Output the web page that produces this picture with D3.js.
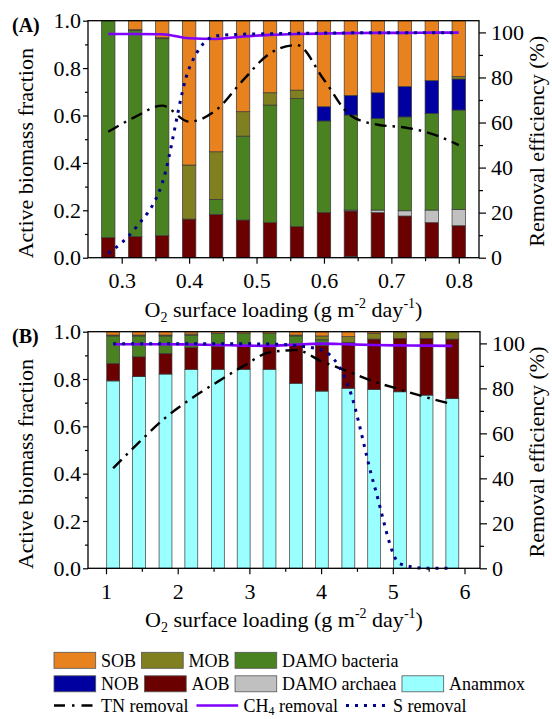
<!DOCTYPE html>
<html>
<head>
<meta charset="utf-8">
<script src="https://cdn.jsdelivr.net/npm/d3@7/dist/d3.min.js"></script>
<style>
body{margin:0;background:#fff;}
svg text{font-family:"Liberation Serif","Times New Roman",serif;fill:#000;}
</style>
</head>
<body>
<svg width="552" height="719"></svg>
<script>
//Community groups, stacked from the bottom of each bar
let groups = ["Anammox", "AOB", "DAMO archaea", "DAMO bacteria", "NOB", "MOB", "SOB"];
let groupColors = ["#99FFFF", "#6B0000", "#C0C0C0", "#4A8221", "#0000A0", "#808020", "#E8821E"];

//Panel A: O2 surface loading (g m-2 day-1)
let loadingA = [0.28, 0.32, 0.36, 0.40, 0.44, 0.48, 0.52, 0.56, 0.60, 0.64, 0.68, 0.72, 0.76, 0.80];
let anammoxA = [0, 0, 0, 0, 0, 0, 0, 0, 0, 0.005, 0, 0, 0, 0];
let aobA = [0.085, 0.089, 0.093, 0.163, 0.183, 0.159, 0.148, 0.131, 0.191, 0.192, 0.190, 0.176, 0.148, 0.135];
let archaeaA = [0, 0, 0, 0, 0, 0, 0, 0, 0, 0.004, 0.011, 0.022, 0.053, 0.069];
let damoBacA = [0.915, 0.870, 0.831, 0, 0.063, 0.354, 0.496, 0.541, 0.386, 0.401, 0.387, 0.396, 0.408, 0.419];
let nobA = [0, 0, 0, 0, 0, 0, 0, 0, 0.060, 0.083, 0.108, 0.128, 0.138, 0.131];
let mobA = [0, 0.003, 0.004, 0.228, 0.201, 0.103, 0.052, 0.035, 0, 0, 0, 0, 0, 0.010];
let sobA = [0, 0.038, 0.072, 0.609, 0.553, 0.384, 0.304, 0.293, 0.363, 0.315, 0.304, 0.278, 0.253, 0.236];
//Removal efficiencies (%)
let tnA = [55.9, 62.5, 67.5, 60.4, 65.5, 78.8, 90.7, 94.4, 79, 63, 59, 57.8, 55, 50];
let ch4A = [99.3, 99.3, 99.2, 97.4, 97.1, 98.2, 98.9, 99.3, 99.5, 99.7, 99.8, 99.8, 99.9, 99.9];
let sA = [2, 13, 33, 84, 98.5, 99.2, 99.4, 99.6, 99.7, 99.8, 99.8, 99.9, 99.9, 99.9];

//Panel B
let loadingB = [1.10, 1.46, 1.83, 2.19, 2.56, 2.92, 3.28, 3.65, 4.01, 4.38, 4.74, 5.10, 5.47, 5.83];
let anammoxB = [0.792, 0.810, 0.821, 0.841, 0.841, 0.841, 0.841, 0.782, 0.749, 0.761, 0.756, 0.746, 0.732, 0.717];
let aobB = [0.074, 0.084, 0.087, 0.093, 0.096, 0.099, 0.099, 0.163, 0.192, 0.194, 0.213, 0.226, 0.240, 0.252];
let archaeaB = [0, 0, 0, 0, 0, 0, 0, 0, 0, 0, 0, 0, 0, 0];
let damoBacB = [0.116, 0.088, 0.074, 0.051, 0.056, 0.054, 0.054, 0.037, 0.025, 0, 0, 0, 0, 0];
let nobB = [0, 0, 0, 0, 0, 0, 0, 0, 0, 0, 0, 0, 0, 0];
let mobB = [0.004, 0.004, 0.004, 0.005, 0, 0, 0, 0.004, 0.016, 0.024, 0.024, 0.028, 0.028, 0.031];
let sobB = [0.014, 0.014, 0.014, 0.010, 0.007, 0.006, 0.006, 0.014, 0.018, 0.021, 0.007, 0, 0, 0];
let tnB = [44.5, 56, 67, 75.5, 83, 90, 96, 97, 92, 87.5, 83, 79.5, 76, 73];
let ch4B = [99.6, 99.6, 99.6, 99.5, 99.3, 99.0, 98.9, 99.5, 99.9, 99.6, 99.3, 99.1, 99.0, 98.9];
let sB = [99.8, 99.8, 99.8, 99.8, 99.8, 99.8, 99.7, 99, 97, 81, 37, 2, 0, 0];

//Tick labels
let fractionTicks = [0, 0.2, 0.4, 0.6, 0.8, 1.0];
let efficiencyTicks = [0, 20, 40, 60, 80, 100];
let loadingTicksA = [0.3, 0.4, 0.5, 0.6, 0.7, 0.8];
let loadingTicksB = [1, 2, 3, 4, 5, 6];

let svg = d3.select("svg");
let color = d3.scaleOrdinal(groups, groupColors);
let serif = '"Liberation Serif","Times New Roman",serif';

//Line styles for the three removal curves
let lineStyles = {
  TN: {stroke: "#000", width: 2.4, dash: "12,6,2.5,6"},
  CH4: {stroke: "#8000FF", width: 2.6, dash: null},
  S: {stroke: "#00008B", width: 3, dash: "3,6"}
};

//Mid points between major ticks
function minorTicks(ticks){
  let m = [];
  for(let i = 0; i < ticks.length - 1; i++) m.push((ticks[i] + ticks[i+1]) / 2);
  return m;
}

function styleAxis(ax){
  ax.select(".domain").remove();
  ax.selectAll("line").attr("stroke", "#000").attr("stroke-width", 1.2);
  ax.attr("font-family", serif).attr("font-size", 22);
  ax.selectAll("text").attr("fill", "#000");
}

function drawPanel(p){
  let g = svg.append("g").attr("transform", "translate(" + p.left + "," + p.top + ")");
  let x = d3.scaleLinear().domain(p.xDomain).range([0, p.width]);
  let y = d3.scaleLinear().domain([0, 1]).range([p.height, 0]);
  let y2 = d3.scaleLinear().domain([0, 105.2]).range([p.height, 0]);

  //Table for the stack layout
  let rows = p.xs.map(function(v, i){
    let r = {x: v};
    groups.forEach(function(k){ r[k] = p.bars[k][i]; });
    return r;
  });
  let series = d3.stack().keys(groups)(rows);
  let bw = (x(p.xs[1]) - x(p.xs[0])) * 0.5;

  g.selectAll(".layer")
    .data(series)
    .enter().append("g")
    .attr("class", "layer")
    .attr("fill", function(d){ return color(d.key); })
    .selectAll("rect")
    .data(function(d){ return d.filter(function(s){ return s[1] - s[0] > 0; }); })
    .enter().append("rect")
    .attr("x", function(d){ return x(d.data.x) - bw / 2; })
    .attr("width", bw)
    .attr("y", function(d){ return y(d[1]); })
    .attr("height", function(d){ return y(d[0]) - y(d[1]); })
    .attr("stroke", "#3a3a3a")
    .attr("stroke-width", 0.7);

  //Removal curves on the right axis
  let line = d3.line()
    .x(function(d, i){ return x(p.xs[i]); })
    .y(function(d){ return y2(d); })
    .curve(d3.curveMonotoneX);
  ["TN", "CH4", "S"].forEach(function(k){
    let st = lineStyles[k];
    g.append("path")
      .attr("d", line(p.lines[k]))
      .attr("fill", "none")
      .attr("stroke", st.stroke)
      .attr("stroke-width", st.width)
      .attr("stroke-dasharray", st.dash);
  });

  //Axes
  let ax = g.append("g").attr("transform", "translate(0," + p.height + ")")
    .call(d3.axisBottom(x).tickValues(p.xTicks).tickFormat(d3.format(p.xFormat)).tickSize(6).tickPadding(9));
  styleAxis(ax);
  styleAxis(g.append("g").attr("transform", "translate(0," + p.height + ")")
    .call(d3.axisBottom(x).tickValues(minorTicks(p.xTicks)).tickFormat("").tickSize(3.5)));

  styleAxis(g.append("g")
    .call(d3.axisLeft(y).tickValues(fractionTicks).tickFormat(d3.format(".1f")).tickSize(5).tickPadding(2)));
  styleAxis(g.append("g")
    .call(d3.axisLeft(y).tickValues(minorTicks(fractionTicks)).tickFormat("").tickSize(3)));

  styleAxis(g.append("g").attr("transform", "translate(" + p.width + ",0)")
    .call(d3.axisRight(y2).tickValues(efficiencyTicks).tickFormat(d3.format("d")).tickSize(7).tickPadding(5)));
  styleAxis(g.append("g").attr("transform", "translate(" + p.width + ",0)")
    .call(d3.axisRight(y2).tickValues(minorTicks(efficiencyTicks)).tickFormat("").tickSize(4)));

  //Frame
  g.append("rect")
    .attr("width", p.width).attr("height", p.height)
    .attr("fill", "none").attr("stroke", "#000").attr("stroke-width", 1.3);

  //Axis titles
  g.append("text")
    .attr("transform", "translate(" + (33 - p.left) + "," + (p.height / 2 + 14) + ") rotate(-90)")
    .attr("text-anchor", "middle").attr("font-size", 22)
    .text("Active biomass fraction");
  g.append("text")
    .attr("transform", "translate(" + (544 - p.left) + "," + (p.height / 2 + 2) + ") rotate(-90)")
    .attr("text-anchor", "middle").attr("font-size", 22)
    .text("Removal efficiency (%)");

  let xt = g.append("text")
    .attr("x", p.width / 2).attr("y", p.height + 59)
    .attr("text-anchor", "middle").attr("font-size", 22);
  xt.append("tspan").text("O");
  xt.append("tspan").attr("font-size", 14).attr("dy", 5).text("2");
  xt.append("tspan").attr("dy", -5).text(" surface loading (g m");
  xt.append("tspan").attr("font-size", 14).attr("dy", -9).text("-2");
  xt.append("tspan").attr("dy", 9).text(" day");
  xt.append("tspan").attr("font-size", 14).attr("dy", -9).text("-1");
  xt.append("tspan").attr("dy", 9).text(")");

  //Panel letter
  g.append("text")
    .attr("x", 12 - p.left).attr("y", p.labelY - p.top)
    .attr("font-size", 20).attr("font-weight", "bold")
    .text(p.label);
}

drawPanel({
  label: "(A)", labelY: 32,
  left: 88, top: 20.7, width: 391, height: 237,
  xDomain: [0.25, 0.83], xTicks: loadingTicksA, xFormat: ".1f",
  xs: loadingA,
  bars: {"Anammox": anammoxA, "AOB": aobA, "DAMO archaea": archaeaA, "DAMO bacteria": damoBacA,
         "NOB": nobA, "MOB": mobA, "SOB": sobA},
  lines: {TN: tnA, CH4: ch4A, S: sA}
});

drawPanel({
  label: "(B)", labelY: 343,
  left: 88, top: 331.7, width: 392, height: 236.6,
  xDomain: [0.749, 6.216], xTicks: loadingTicksB, xFormat: "d",
  xs: loadingB,
  bars: {"Anammox": anammoxB, "AOB": aobB, "DAMO archaea": archaeaB, "DAMO bacteria": damoBacB,
         "NOB": nobB, "MOB": mobB, "SOB": sobB},
  lines: {TN: tnB, CH4: ch4B, S: sB}
});

//Legend, laid out item after item on three rows
let legendRows = [
  {y: 660.3, items: [["box", "SOB"], ["box", "MOB"], ["box", "DAMO bacteria"]]},
  {y: 683.8, items: [["box", "NOB"], ["box", "AOB"], ["box", "DAMO archaea"], ["box", "Anammox"]]},
  {y: 705.5, items: [["line", "TN"], ["line", "CH4"], ["line", "S"]]}
];
let legend = svg.append("g").attr("font-size", 18);
legendRows.forEach(function(row){
  let cx = 54;
  row.items.forEach(function(it){
    if(it[0] == "box"){
      legend.append("rect")
        .attr("x", cx).attr("y", row.y - 8).attr("width", 41.7).attr("height", 16)
        .attr("fill", color(it[1])).attr("stroke", "#555").attr("stroke-width", 0.8);
    } else {
      let st = lineStyles[it[1]];
      legend.append("line")
        .attr("x1", cx).attr("x2", cx + 41.7).attr("y1", row.y).attr("y2", row.y)
        .attr("stroke", st.stroke).attr("stroke-width", st.width)
        .attr("stroke-dasharray", it[1] == "TN" ? "11,7,2.5,7" : st.dash);
    }
    cx += 47;
    let t = legend.append("text").attr("x", cx).attr("y", row.y + 6.5);
    if(it[0] == "box"){
      t.text(it[1]);
    } else if(it[1] == "CH4"){
      t.append("tspan").text("CH");
      t.append("tspan").attr("font-size", 12).attr("dy", 3).text("4");
      t.append("tspan").attr("dy", -3).text(" removal");
    } else {
      t.text(it[1] + " removal");
    }
    cx += t.node().getComputedTextLength() + (it[0] == "box" ? 5.5 : 8);
  });
});
</script>
</body>
</html>
